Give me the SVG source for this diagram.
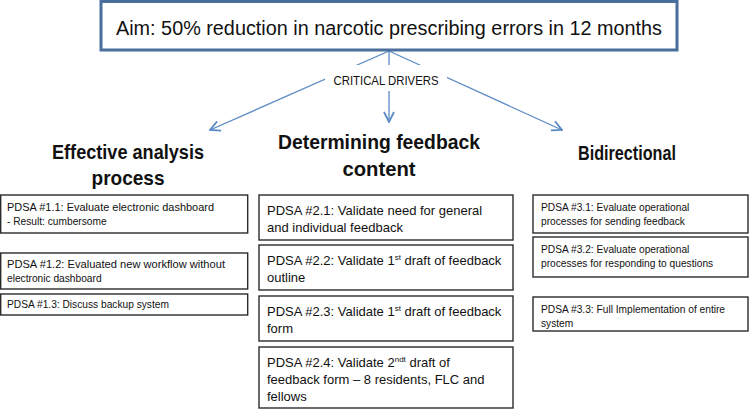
<svg xmlns="http://www.w3.org/2000/svg" width="750" height="409" viewBox="0 0 750 409">
<defs>
<style>
.box{fill:#fff;stroke:#2b2b2b;stroke-width:1.4}
.aim{fill:#fff;stroke:#4a6f9c;stroke-width:3}
.t{font-family:"Liberation Sans",Arial,sans-serif;fill:#111}
.s{font-size:10.2px}
.m{font-size:13px}
.h{font-size:21px;font-weight:bold;text-anchor:middle}
.conn{stroke:#5b8bc4;stroke-width:1.3;fill:none}
</style>
<marker id="arr" viewBox="0 0 12 12" refX="11" refY="6" markerWidth="12" markerHeight="12" markerUnits="userSpaceOnUse" orient="auto">
<path d="M1,1 L11,6 L1,11" fill="none" stroke="#5b8bc4" stroke-width="1.8"/>
</marker>
</defs>

<g id="connectors">
<line class="conn" x1="389" y1="51" x2="210" y2="130" marker-end="url(#arr)"/>
<line class="conn" x1="389" y1="51" x2="389" y2="122" marker-end="url(#arr)"/>
<line class="conn" x1="389" y1="51" x2="562" y2="130" marker-end="url(#arr)"/>
</g>

<g id="aim">
<rect class="aim" x="101" y="1.5" width="576" height="48.5"/>
<text class="t" x="389" y="35" font-size="20.5" text-anchor="middle" textLength="546" lengthAdjust="spacingAndGlyphs">Aim: 50% reduction in narcotic prescribing errors in 12 months</text>
</g>

<g id="critical-drivers">
<rect x="325" y="65" width="122" height="26" fill="#fff"/>
<text class="t" x="386" y="85" font-size="13" text-anchor="middle" textLength="105" lengthAdjust="spacingAndGlyphs">CRITICAL DRIVERS</text>
</g>

<g id="driver1">
<text class="t h" x="128" y="159" textLength="152" lengthAdjust="spacingAndGlyphs">Effective analysis</text>
<text class="t h" x="128" y="185" textLength="73" lengthAdjust="spacingAndGlyphs">process</text>
</g>
<g id="driver2">
<text class="t h" x="379" y="149" textLength="202" lengthAdjust="spacingAndGlyphs">Determining feedback</text>
<text class="t h" x="379" y="176" textLength="73" lengthAdjust="spacingAndGlyphs">content</text>
</g>
<g id="driver3">
<text class="t h" x="627" y="160" textLength="98" lengthAdjust="spacingAndGlyphs">Bidirectional</text>
</g>

<g id="pdsa1-1">
<rect class="box" x="0.7" y="195" width="247" height="38"/>
<text class="t s" x="7" y="211" textLength="207" lengthAdjust="spacingAndGlyphs">PDSA #1.1:  Evaluate electronic dashboard</text>
<text class="t s" x="7" y="225">- Result: cumbersome</text>
</g>
<g id="pdsa1-2">
<rect class="box" x="0.7" y="253" width="247" height="36"/>
<text class="t s" x="7" y="268" textLength="218" lengthAdjust="spacingAndGlyphs">PDSA #1.2: Evaluated new workflow without</text>
<text class="t s" x="7" y="282">electronic dashboard</text>
</g>
<g id="pdsa1-3">
<rect class="box" x="0.7" y="294" width="247" height="21"/>
<text class="t s" x="7" y="308">PDSA #1.3: Discuss backup system</text>
</g>

<g id="pdsa2-1">
<rect class="box" x="259" y="195" width="254" height="45"/>
<text class="t m" x="267" y="215">PDSA #2.1: Validate need for general</text>
<text class="t m" x="267" y="232">and individual feedback</text>
</g>
<g id="pdsa2-2">
<rect class="box" x="259" y="245" width="254" height="45"/>
<text class="t m" x="267" y="265">PDSA #2.2: Validate 1<tspan font-size="8" dy="-5">st</tspan><tspan dy="5"> draft of feedback</tspan></text>
<text class="t m" x="267" y="282">outline</text>
</g>
<g id="pdsa2-3">
<rect class="box" x="259" y="296" width="254" height="45"/>
<text class="t m" x="267" y="316">PDSA #2.3: Validate 1<tspan font-size="8" dy="-5">st</tspan><tspan dy="5"> draft of feedback</tspan></text>
<text class="t m" x="267" y="333">form</text>
</g>
<g id="pdsa2-4">
<rect class="box" x="259" y="347" width="254" height="61"/>
<text class="t m" x="267" y="367">PDSA #2.4: Validate 2<tspan font-size="8" dy="-5">ndt</tspan><tspan dy="5"> draft of</tspan></text>
<text class="t m" x="267" y="384">feedback form – 8 residents, FLC and</text>
<text class="t m" x="267" y="401">fellows</text>
</g>

<g id="pdsa3-1">
<rect class="box" x="533" y="195" width="215" height="38"/>
<text class="t s" x="541" y="211">PDSA #3.1: Evaluate operational</text>
<text class="t s" x="541" y="225">processes for sending feedback</text>
</g>
<g id="pdsa3-2">
<rect class="box" x="533" y="237" width="215" height="40"/>
<text class="t s" x="541" y="253">PDSA #3.2: Evaluate operational</text>
<text class="t s" x="541" y="267">processes for responding to questions</text>
</g>
<g id="pdsa3-3">
<rect class="box" x="533" y="297" width="215" height="34"/>
<text class="t s" x="541" y="313">PDSA #3.3: Full Implementation of entire</text>
<text class="t s" x="541" y="327">system</text>
</g>
</svg>
